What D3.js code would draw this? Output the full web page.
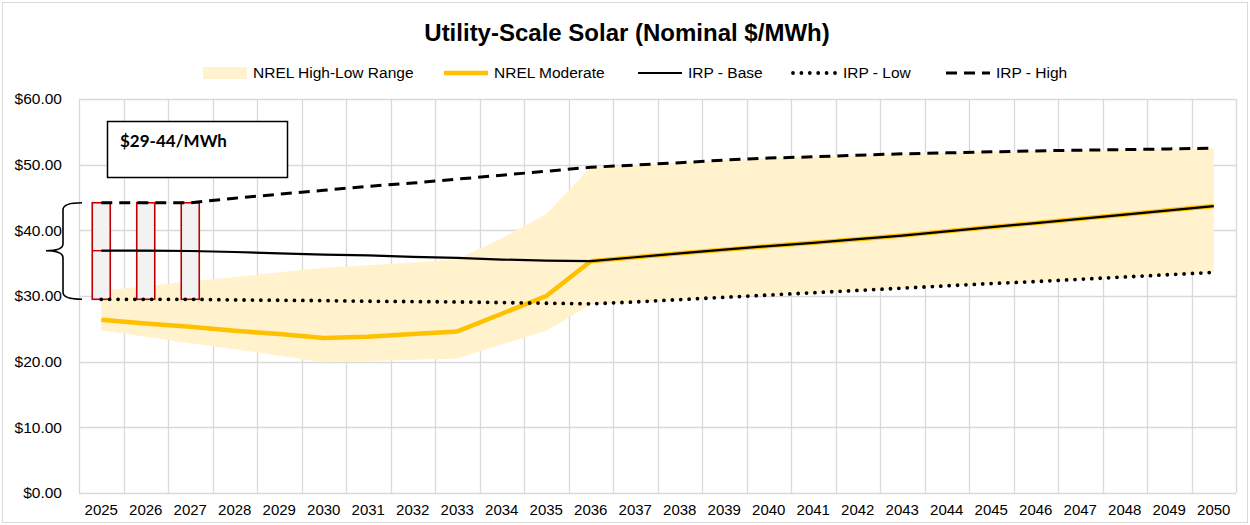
<!DOCTYPE html>
<html>
<head>
<meta charset="utf-8">
<script src="https://cdn.jsdelivr.net/npm/d3@7"></script>
<style>
  html, body { margin: 0; padding: 0; background: #fff; }
  svg { display: block; font-family: "Liberation Sans", Arial, sans-serif; }
</style>
</head>
<body>
<svg id="chart" width="1250" height="525"></svg>
<script>
// Years on the category axis
const years = ["2025","2026","2027","2028","2029","2030","2031","2032","2033","2034","2035","2036","2037",
               "2038","2039","2040","2041","2042","2043","2044","2045","2046","2047","2048","2049","2050"];

// NREL ATB range (low / high edge) and moderate case, $/MWh
const nrelLow  = [24.8,23.8,22.8,21.9,20.9,19.9,20.1,20.3,20.5,22.6,24.7,28.7,29.1,
                  29.45,29.8,30.15,30.5,30.85,31.2,31.55,31.9,32.2,32.55,32.9,33.25,33.6];
const nrelHigh = [30.8,31.5,32.2,32.9,33.6,34.3,34.7,35.1,35.6,38.8,42.5,49.6,49.95,
                  50.3,50.7,51.0,51.2,51.45,51.65,51.8,51.95,52.1,52.2,52.3,52.4,52.5];
const nrelModerate = [26.4,25.8,25.3,24.7,24.2,23.6,23.8,24.2,24.6,27.3,30.0,35.3,35.9,
                      36.5,37.05,37.6,38.1,38.65,39.2,39.85,40.5,41.1,41.75,42.4,43.05,43.7];

// IRP cases
const irpBase = [36.9,36.9,36.85,36.7,36.5,36.3,36.2,35.95,35.8,35.55,35.4,35.3,35.9,
                 36.5,37.05,37.6,38.1,38.65,39.2,39.85,40.5,41.1,41.75,42.4,43.05,43.7];
const irpLow  = [29.5,29.5,29.5,29.4,29.35,29.3,29.2,29.15,29.1,29.0,28.9,28.8,29.1,
                 29.45,29.8,30.15,30.5,30.85,31.2,31.55,31.9,32.2,32.55,32.9,33.25,33.6];
const irpHigh = [44.2,44.2,44.2,44.9,45.5,46.1,46.7,47.2,47.8,48.4,49.0,49.6,49.95,
                 50.3,50.7,51.0,51.2,51.45,51.65,51.8,51.95,52.1,52.2,52.3,52.4,52.5];

// Value axis ticks
const yTicks = [0, 10, 20, 30, 40, 50, 60];

// Years highlighted with a low–high box and the callout text
const boxYears = ["2025", "2026", "2027"];
const calloutText = "$29-44/MWh";

const title = "Utility-Scale Solar (Nominal $/MWh)";
const legendItems = [
  { label: "NREL High-Low Range", kind: "area" },
  { label: "NREL Moderate", kind: "moderate" },
  { label: "IRP - Base", kind: "base" },
  { label: "IRP - Low", kind: "low" },
  { label: "IRP - High", kind: "high" }
];

const COLORS = { band: "#fff2cc", moderate: "#ffc000", grid: "#d9d9d9", box: "#c00000", boxFill: "#f2f2f2" };
const STYLES = {
  moderate: { stroke: COLORS.moderate, width: 4.5, dash: null, cap: "butt" },
  base:     { stroke: "#000", width: 2.2, dash: null, cap: "butt" },
  low:      { stroke: "#000", width: 3.8, dash: "0 8.4", cap: "round" },
  high:     { stroke: "#000", width: 3, dash: "11 7", cap: "butt" }
};

const svg = d3.select("#chart");
const W = 1250, H = 525;
const plot = { left: 79, right: 1236, top: 99, bottom: 493 };

// Chart frame
svg.append("rect")
  .attr("x", 2.5).attr("y", 2.5).attr("width", W - 5).attr("height", H - 5)
  .attr("fill", "#fff").attr("stroke", COLORS.grid).attr("stroke-width", 1);

const x = d3.scaleBand().domain(years).range([plot.left, plot.right]).paddingInner(0).paddingOuter(0);
const xc = d => x(d) + x.bandwidth() / 2;
const y = d3.scaleLinear().domain([0, 60]).range([plot.bottom, plot.top]);

// Gridlines
const grid = svg.append("g").attr("class", "grid");
grid.selectAll("line.h").data(yTicks).join("line")
  .attr("x1", plot.left).attr("x2", plot.right)
  .attr("y1", d => Math.round(y(d)) + 0.5).attr("y2", d => Math.round(y(d)) + 0.5)
  .attr("stroke", COLORS.grid).attr("stroke-width", 1.3);
const vEdges = years.map(d => x(d)).concat([plot.right]);
grid.selectAll("line.v").data(vEdges).join("line")
  .attr("x1", d => Math.round(d) + 0.5).attr("x2", d => Math.round(d) + 0.5)
  .attr("y1", plot.top).attr("y2", plot.bottom)
  .attr("stroke", COLORS.grid).attr("stroke-width", 1.3);

// Axes labels
const yAxis = d3.axisLeft(y).tickValues(yTicks).tickSize(0).tickPadding(0)
  .tickFormat(d => "$" + d3.format(".2f")(d));
svg.append("g").attr("transform", `translate(${plot.left - 17},0)`).call(yAxis)
  .call(g => g.select(".domain").remove())
  .call(g => g.selectAll("text").attr("font-size", 15.5).attr("fill", "#000")
    .attr("font-family", "Liberation Sans, Arial, sans-serif"));

const xAxis = d3.axisBottom(x).tickSize(0).tickPadding(0);
svg.append("g").attr("transform", `translate(0,${plot.bottom + 11})`).call(xAxis)
  .call(g => g.select(".domain").remove())
  .call(g => g.selectAll("text").attr("font-size", 15).attr("fill", "#000")
    .attr("font-family", "Liberation Sans, Arial, sans-serif"));

// NREL high-low band
const area = d3.area().x((d, i) => xc(years[i])).y0((d, i) => y(nrelLow[i])).y1(d => y(d));
svg.append("path").datum(nrelHigh).attr("d", area).attr("fill", COLORS.band);

// Low–high boxes with base marker
const boxW = 18;
const boxes = svg.append("g");
boxYears.forEach(yr => {
  const i = years.indexOf(yr);
  const cx = xc(yr);
  boxes.append("rect")
    .attr("x", cx - boxW / 2).attr("y", y(irpHigh[i]))
    .attr("width", boxW).attr("height", y(irpLow[i]) - y(irpHigh[i]))
    .attr("fill", COLORS.boxFill).attr("stroke", COLORS.box).attr("stroke-width", 1.6);
  boxes.append("line")
    .attr("x1", cx - boxW / 2).attr("x2", cx + boxW / 2)
    .attr("y1", y(irpBase[i])).attr("y2", y(irpBase[i]))
    .attr("stroke", COLORS.box).attr("stroke-width", 1.4);
});

// Series lines
const line = d3.line().x((d, i) => xc(years[i])).y(d => y(d));
function drawLine(values, st) {
  svg.append("path").datum(values).attr("d", line)
    .attr("fill", "none").attr("stroke", st.stroke).attr("stroke-width", st.width)
    .attr("stroke-dasharray", st.dash).attr("stroke-linecap", st.cap).attr("stroke-linejoin", "round");
}
drawLine(nrelModerate, STYLES.moderate);
drawLine(irpBase, STYLES.base);
drawLine(irpLow, STYLES.low);
drawLine(irpHigh, STYLES.high);

// Curly brace spanning the first box's low–high range
(function brace() {
  const top = y(irpHigh[0]), bot = y(irpLow[0]), mid = y(irpBase[0]);
  const xr = plot.left + 3, xv = plot.left - 16, xt = plot.left - 33;
  const r = 7;
  const p = d3.path();
  p.moveTo(xr, top);
  p.quadraticCurveTo(xv, top, xv, top + r);
  p.lineTo(xv, mid - r);
  p.quadraticCurveTo(xv, mid, xt, mid);
  p.quadraticCurveTo(xv, mid, xv, mid + r);
  p.lineTo(xv, bot - r);
  p.quadraticCurveTo(xv, bot, xr, bot);
  svg.append("path").attr("d", p.toString()).attr("fill", "none")
    .attr("stroke", "#000").attr("stroke-width", 1.6);
})();

// Callout box
const callout = svg.append("g");
callout.append("rect")
  .attr("x", 107.5).attr("y", 121.5).attr("width", 180).attr("height", 56)
  .attr("fill", "#fff").attr("stroke", "#000").attr("stroke-width", 1.5);
callout.append("text")
  .attr("x", 120).attr("y", 147)
  .attr("font-family", "Lato, 'Open Sans', sans-serif").attr("font-weight", "bold")
  .attr("font-size", 17).attr("fill", "#000").text(calloutText);

// Title
svg.append("text").attr("x", 627).attr("y", 41).attr("text-anchor", "middle")
  .attr("font-size", 24).attr("font-weight", "bold").attr("fill", "#000").text(title);

// Legend
const legendX = [203, 444, 638, 793, 946];
const legend = svg.append("g");
legendItems.forEach((it, k) => {
  const x0 = legendX[k], ly = 73;
  if (it.kind === "area") {
    legend.append("rect").attr("x", x0).attr("y", ly - 6).attr("width", 44).attr("height", 12)
      .attr("fill", COLORS.band);
  } else {
    const st = STYLES[it.kind];
    legend.append("line").attr("x1", x0).attr("x2", x0 + 44).attr("y1", ly).attr("y2", ly)
      .attr("stroke", st.stroke).attr("stroke-width", st.width)
      .attr("stroke-dasharray", st.dash).attr("stroke-linecap", st.cap);
  }
  legend.append("text").attr("x", x0 + 50).attr("y", ly + 5)
    .attr("font-size", 15.5).attr("fill", "#000").text(it.label);
});
</script>
</body>
</html>
